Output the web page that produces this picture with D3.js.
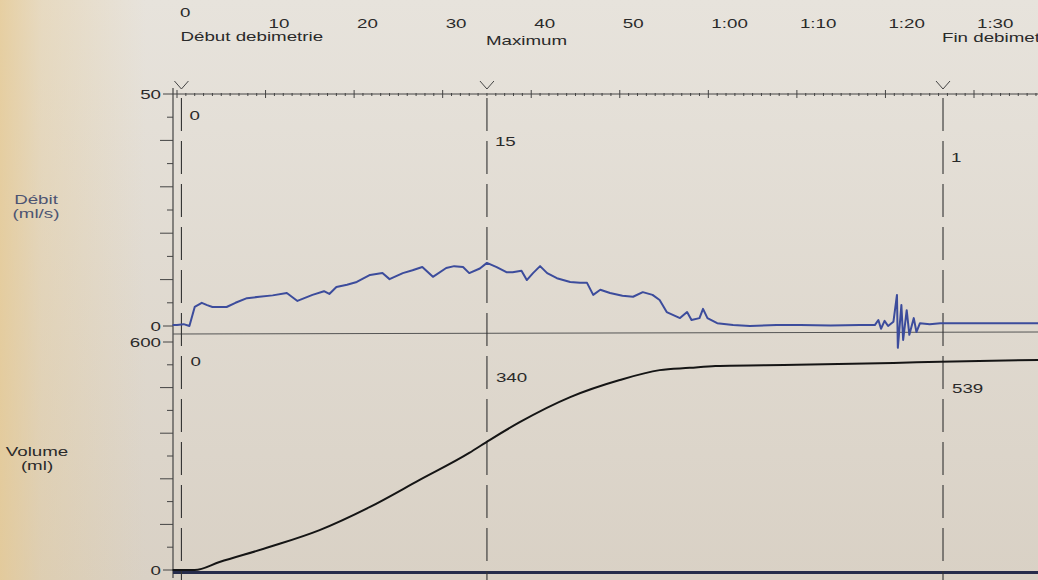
<!DOCTYPE html>
<html>
<head>
<meta charset="utf-8">
<script src="https://cdn.jsdelivr.net/npm/d3@7"></script>
<style>
  body { margin: 0; overflow: hidden; background: #ddd6cb; }
  text { font-family: "Liberation Sans", Arial, sans-serif; fill: #2a2a2a; }
</style>
</head>
<body>
<script>
// time axis (seconds) and its printed labels
var timeTicks  = [0, 10, 20, 30, 40, 50, 60, 70, 80, 90];
var timeLabels = ["0", "10", "20", "30", "40", "50", "1:00", "1:10", "1:20", "1:30"];

// event markers: time (s), name, flow value and volume value printed next to them
var markerTimes   = [0.5, 35, 86.5];
var markerNames   = ["Début debimetrie", "Maximum", "Fin debimetrie"];
var markerFlow    = ["0", "15", "1"];
var markerVolume  = ["0", "340", "539"];

// flow curve, [time s, ml/s]
var flowSamples = [
  [-0.5, 0.2], [0, 0.2], [0.75, 0.4], [1.4, 0], [2.0, 4.1], [2.8, 5.0], [3.4, 4.5], [4.0, 4.1],
  [5.6, 4.1], [6.6, 5.0], [7.9, 6.0], [9.3, 6.3], [10.8, 6.6], [12.4, 7.1], [13.6, 5.4],
  [15.3, 6.7], [16.6, 7.5], [17.2, 6.9], [18.0, 8.4], [19.2, 8.9], [20.3, 9.5], [21.8, 11.0],
  [23.2, 11.4], [24.0, 10.1], [25.5, 11.4], [26.6, 12.0], [27.7, 12.7], [28.9, 10.6],
  [30.4, 12.5], [31.3, 12.9], [32.3, 12.7], [33.0, 11.4], [34.2, 12.4], [35.0, 13.6],
  [36.1, 12.7], [37.2, 11.6], [37.9, 11.6], [38.9, 11.9], [39.5, 9.9], [40.2, 11.4],
  [41.0, 12.9], [41.8, 11.4], [42.9, 10.3], [44.4, 9.5], [45.5, 9.3], [46.3, 9.3],
  [47.0, 6.7], [47.8, 7.8], [48.9, 7.1], [50.3, 6.5], [51.5, 6.3], [52.6, 7.3], [53.7, 6.7],
  [54.5, 5.6], [55.3, 3.0], [56.8, 1.7], [57.6, 3.0], [58.1, 1.3], [59.0, 1.7], [59.4, 3.7],
  [59.9, 1.7], [61.0, 0.6], [62.8, 0.2], [64.7, 0], [67.7, 0.2], [70.4, 0.2], [73.8, 0.1],
  [77.1, 0.2], [78.8, 0.2], [79.2, 1.3], [79.5, -0.6], [79.9, 1.1], [80.3, 0], [80.9, 0.9],
  [81.3, 6.7], [81.4, -4.7], [81.8, 4.5], [82.0, -3.0], [82.4, 3.4], [82.7, -1.9],
  [83.2, 1.7], [83.5, -1.3], [83.9, 0.6], [85.0, 0.4], [86.2, 0.6], [97.5, 0.6]
];

// volume curve, [time s, ml]
var volumeSamples = [
  [-0.5, 0], [2.0, 0], [4.8, 21], [10.5, 61], [16.1, 105], [21.8, 166], [27.4, 237],
  [33.0, 308], [35.3, 342], [38.7, 389], [44.4, 455], [50.0, 500], [54.5, 526],
  [57.9, 532], [60.8, 537], [70, 540], [80.9, 545], [86.2, 548], [97.5, 553]
];

var flowTicks   = d3.range(0, 51, 5);
var volumeTicks = d3.range(0, 601, 60);

var W = 1038, H = 580;

var svg = d3.select("body").append("svg")
    .attr("width", W)
    .attr("height", H);

// paper background
var defs = svg.append("defs");
var vg = defs.append("linearGradient").attr("id", "paper").attr("x1", 0).attr("y1", 0).attr("x2", 0).attr("y2", 1);
vg.append("stop").attr("offset", "0%").attr("stop-color", "#e7e3dc");
vg.append("stop").attr("offset", "100%").attr("stop-color", "#d9d1c5");
var hg = defs.append("linearGradient").attr("id", "edge").attr("x1", 0).attr("y1", 0).attr("x2", 1).attr("y2", 0);
hg.append("stop").attr("offset", "0%").attr("stop-color", "#e6c88e").attr("stop-opacity", 0.75);
hg.append("stop").attr("offset", "4%").attr("stop-color", "#e6c88e").attr("stop-opacity", 0.35);
hg.append("stop").attr("offset", "14%").attr("stop-color", "#e6c88e").attr("stop-opacity", 0);
svg.append("rect").attr("width", W).attr("height", H).attr("fill", "url(#paper)");
svg.append("rect").attr("width", W).attr("height", H).attr("fill", "url(#edge)");

// scales
var x = d3.scaleLinear().domain([0, 90]).range([177, 974]);
var yFlow = d3.scaleLinear().domain([0, 50]).range([326, 94]);
var yVol = d3.scaleLinear().domain([0, 600]).range([570, 342]);
var axisX = 173;

// the printer font is wide, so stretch the text horizontally
function label(txt, px, py, anchor, color) {
  svg.append("text")
      .attr("transform", "translate(" + px + "," + py + ") scale(1.5,1)")
      .attr("text-anchor", anchor || "start")
      .attr("font-size", "12.5px")
      .style("fill", color || "#2a2a2a")
      .text(txt);
}

// top time axis
var topY = yFlow(50);
svg.append("line")
    .attr("x1", axisX).attr("x2", W)
    .attr("y1", topY).attr("y2", topY)
    .attr("stroke", "#444").attr("stroke-width", 1);
svg.selectAll(null)
    .data(d3.range(0, 98, 1))
    .enter()
    .append("line")
    .attr("x1", function (d) { return x(d); })
    .attr("x2", function (d) { return x(d); })
    .attr("y1", function (d) { return d % 10 == 0 ? topY - 4 : topY - 1; })
    .attr("y2", function (d) { return d % 10 == 0 ? topY + 4 : topY + 2; })
    .attr("stroke", "#444").attr("stroke-width", 1);

timeTicks.forEach(function (t, i) {
  label(timeLabels[i], x(t) + 3, i == 0 ? 17 : 28);
});

// vertical axis line
svg.append("line")
    .attr("x1", axisX).attr("x2", axisX)
    .attr("y1", 88).attr("y2", 578)
    .attr("stroke", "#444").attr("stroke-width", 1.2);

// left ticks for both panels
function leftTicks(scale, values, majorStep, labelled) {
  svg.selectAll(null)
      .data(values)
      .enter()
      .append("line")
      .attr("x1", function (d) {
        if (labelled.indexOf(d) >= 0) return axisX - 10;
        return d % majorStep == 0 ? axisX - 13 : axisX - 6;
      })
      .attr("x2", axisX)
      .attr("y1", function (d) { return scale(d); })
      .attr("y2", function (d) { return scale(d); })
      .attr("stroke", "#444").attr("stroke-width", 1);
  labelled.forEach(function (v) {
    label(String(v), axisX - 12, scale(v) + 4.5, "end");
  });
}
leftTicks(yFlow, flowTicks, 10, [0, 50]);
leftTicks(yVol, volumeTicks, 120, [0, 600]);

// axis titles
label("Débit", 36, 204, "middle", "#4d5472");
label("(ml/s)", 36, 218, "middle", "#4d5472");
label("Volume", 37, 456, "middle", "#2a2a2a");
label("(ml)", 37, 470, "middle", "#2a2a2a");

// panel divider and bottom base line
svg.append("line")
    .attr("x1", axisX).attr("x2", W)
    .attr("y1", 334).attr("y2", 332)
    .attr("stroke", "#555").attr("stroke-width", 1);
svg.append("line")
    .attr("x1", axisX).attr("x2", W)
    .attr("y1", yVol(0) + 2.5).attr("y2", yVol(0) + 2.5)
    .attr("stroke", "#262c4a").attr("stroke-width", 3);

// markers: V sign, dashed vertical, printed names and values
var stagger = [0, 26, 42];
var staggerVol = [0, 16, 27];
markerTimes.forEach(function (t, i) {
  var mx = x(t);
  svg.append("path")
      .attr("d", "M" + (mx - 7) + ",81L" + mx + ",89L" + (mx + 7) + ",81")
      .attr("fill", "none").attr("stroke", "#444").attr("stroke-width", 1);
  svg.append("line")
      .attr("x1", mx).attr("x2", mx)
      .attr("y1", 98).attr("y2", 580)
      .attr("stroke", "#333").attr("stroke-width", 1.1)
      .attr("stroke-dasharray", "33,10");
  label(markerNames[i], mx - 1, [41, 45, 42][i]);
  label(markerFlow[i], mx + 8, yFlow(50) + 26 + stagger[i]);
  label(markerVolume[i], mx + 9, yVol(600) + 24 + staggerVol[i]);
});

// curves
var flowLine = d3.line()
    .x(function (d) { return x(d[0]); })
    .y(function (d) { return yFlow(d[1]); });
svg.append("path")
    .datum(flowSamples)
    .attr("d", flowLine)
    .attr("fill", "none")
    .attr("stroke", "#3c4c9c")
    .attr("stroke-width", 2)
    .attr("stroke-linejoin", "round");

var volLine = d3.line()
    .curve(d3.curveMonotoneX)
    .x(function (d) { return x(d[0]); })
    .y(function (d) { return yVol(d[1]); });
svg.append("path")
    .datum(volumeSamples)
    .attr("d", volLine)
    .attr("fill", "none")
    .attr("stroke", "#151515")
    .attr("stroke-width", 2);
</script>
</body>
</html>
